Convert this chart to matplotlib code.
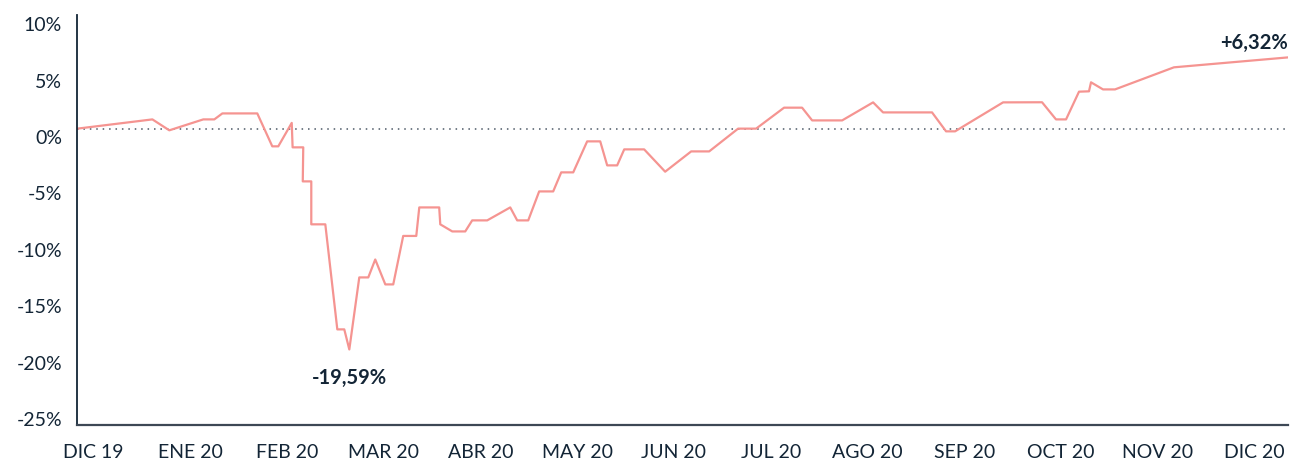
import matplotlib
matplotlib.use("Agg")
import matplotlib.pyplot as plt

plt.rcParams['font.family'] = ['Lato', 'DejaVu Sans']
plt.rcParams['axes.unicode_minus'] = False

# month index (0 = DIC 19) and cumulative return in %
months = [-0.165, 0.61, 0.785, 1.136, 1.25, 1.333, 1.694, 1.849, 1.911, 2.05,
          2.059, 2.169, 2.164, 2.252, 2.252, 2.397, 2.521, 2.593, 2.645, 2.748,
          2.841, 2.913, 3.017, 3.099, 3.202, 3.337, 3.368, 3.574, 3.585, 3.709,
          3.843, 3.915, 4.07, 4.308, 4.38, 4.494, 4.607, 4.752, 4.835, 4.959,
          5.103, 5.238, 5.31, 5.413, 5.486, 5.692, 5.909, 6.178, 6.364, 6.663,
          6.849, 7.138, 7.324, 7.428, 7.738, 8.058, 8.161, 8.667, 8.812, 8.905,
          9.401, 9.804, 9.948, 10.052, 10.186, 10.289, 10.31, 10.434, 10.558, 11.167,
          12.345]
values = [0.66, 1.48, 0.51, 1.48, 1.48, 2.01, 2.01, -0.91, -0.91, 1.17,
          -1.0, -1.0, -4.02, -4.02, -7.83, -7.83, -17.15, -17.15, -18.93, -12.54,
          -12.54, -10.95, -13.16, -13.16, -8.86, -8.86, -6.33, -6.33, -7.83, -8.46,
          -8.46, -7.48, -7.48, -6.33, -7.48, -7.48, -4.91, -4.91, -3.22, -3.22,
          -0.47, -0.47, -2.6, -2.6, -1.18, -1.18, -3.16, -1.36, -1.36, 0.66,
          0.66, 2.52, 2.52, 1.39, 1.39, 2.99, 2.10, 2.10, 0.42, 0.42,
          2.99, 3.0, 1.48, 1.48, 3.94, 3.97, 4.77, 4.14, 4.14, 6.10,
          6.98]
baseline = 0.66

month_labels = ['DIC 19', 'ENE 20', 'FEB 20', 'MAR 20', 'ABR 20', 'MAY 20', 'JUN 20',
                'JUL 20', 'AGO 20', 'SEP 20', 'OCT 20', 'NOV 20', 'DIC 20']
y_ticks = [10, 5, 0, -5, -10, -15, -20, -25]

navy = '#132536'

fig = plt.figure(figsize=(12.9, 4.64), dpi=100)
ax = fig.add_axes([0.060, 0.0815, 0.9384, 0.883])

ax.axhline(baseline, color='#4c5866', lw=1.1, ls=(0, (1, 3.2)), zorder=1)
ax.plot(months, values, color='#f59491', lw=1.6, zorder=2)

ax.set_xlim(months[0], months[-1])
ax.set_ylim(-25.65, 10.7)

ax.set_xticks(range(len(month_labels)))
ax.set_xticklabels(month_labels)
ax.set_yticks(y_ticks)
ax.set_yticklabels([f'{t}%' for t in y_ticks])
ax.tick_params(axis='both', length=0, labelsize=14, labelcolor=navy)
ax.tick_params(axis='x', pad=13)
ax.tick_params(axis='y', pad=11)

for s in ['top', 'right']:
    ax.spines[s].set_visible(False)
ax.spines['left'].set_color(navy)
ax.spines['left'].set_linewidth(1.3)
ax.spines['bottom'].set_color('#3d4855')
ax.spines['bottom'].set_linewidth(1.6)

# annotations relative to starting value
i_min = values.index(min(values))
d_min = values[i_min] - baseline
d_end = values[-1] - baseline
ax.annotate(f'{d_min:.2f}%'.replace('.', ','), (months[i_min], values[i_min]),
            xytext=(0, -28), textcoords='offset pixels', ha='center', va='center',
            fontsize=14.5, fontweight='bold', color=navy)
ax.annotate(f'{d_end:+.2f}%'.replace('.', ','), (months[-1], values[-1]),
            xytext=(0, 15), textcoords='offset pixels', ha='right', va='center',
            fontsize=14.5, fontweight='bold', color=navy)

fig.savefig('out.png', dpi=100)
